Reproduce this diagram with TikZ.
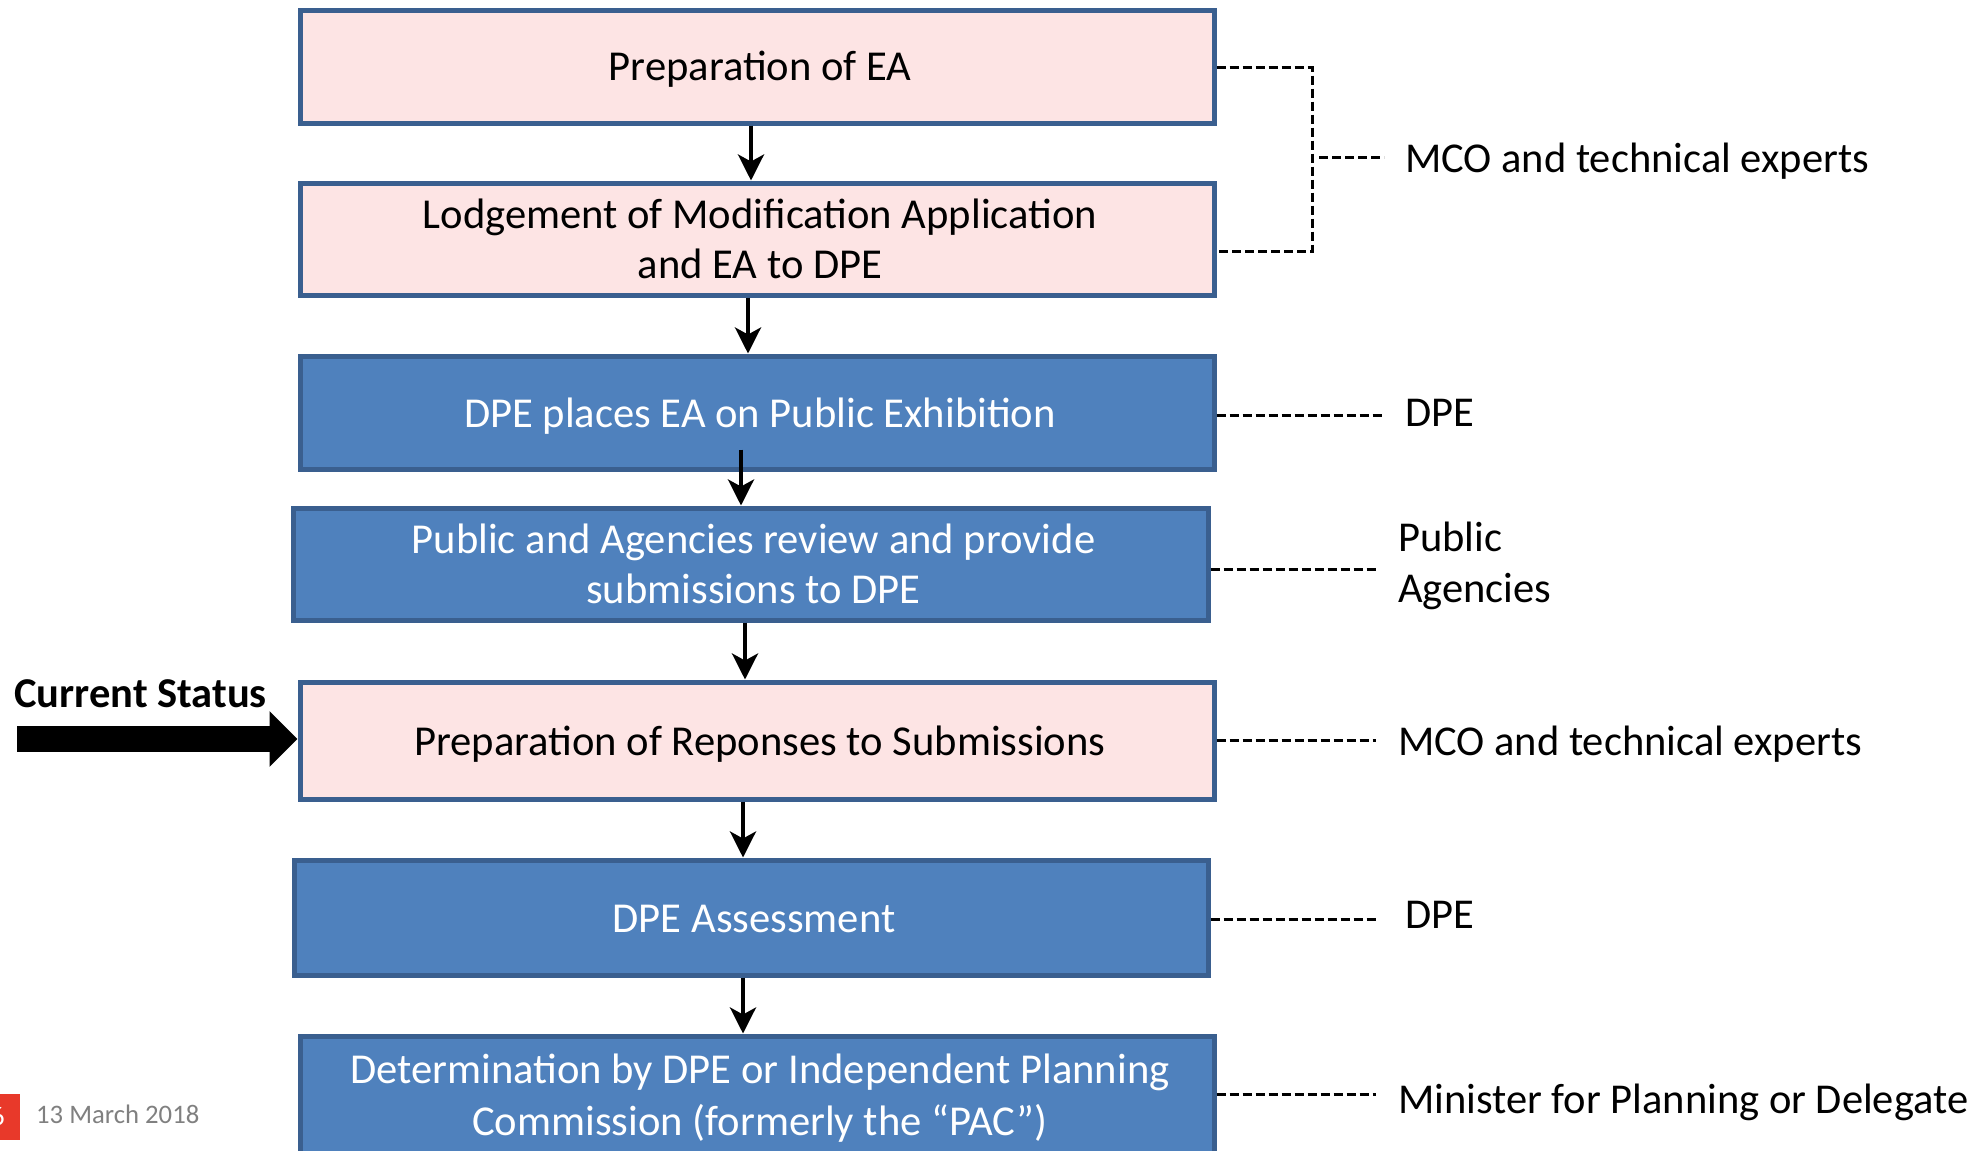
\documentclass[tikz,border=0pt]{standalone}
\usepackage{fontspec}
\setmainfont{Carlito}
\usetikzlibrary{arrows.meta,calc}
\definecolor{pinkfill}{RGB}{253,228,228}
\definecolor{bluefill}{RGB}{79,129,189}
\definecolor{boxborder}{RGB}{58,95,143}
\definecolor{footgrey}{RGB}{128,128,128}
\definecolor{footred}{RGB}{232,57,42}
\tikzset{
  box/.style={draw=boxborder, line width=5pt, rectangle, inner sep=0pt, minimum width=914pt},
  pinkbox/.style={box, fill=pinkfill},
  bluebox/.style={box, fill=bluefill},
  boxtext/.style={anchor=base, inner sep=0pt, font=\fontsize{42.6}{50}\selectfont},
  darktext/.style={boxtext, text=black},
  lighttext/.style={boxtext, text=white},
  sidelabel/.style={anchor=base west, inner sep=0pt, font=\fontsize{42.5}{51}\selectfont},
  flow/.style={line width=4pt, -{Stealth[length=26pt, width=26pt, inset=7pt]}},
  dashline/.style={line width=3pt, dash pattern=on 9pt off 4pt},
  statusarrow/.style={line width=26pt, -{Triangle[length=28pt, width=54pt]}},
}
\begin{document}
\begin{tikzpicture}[x=1pt,y=-1pt]
\useasboundingbox (0,0) rectangle (1979,1151);
\begin{scope}
\clip (0,0) rectangle (1979,1151);
% boxes
\node[pinkbox, minimum height=113pt] (b1) at (757,66.5) {};
\node[darktext] (t1) at (760,80) {Preparation of EA};
\node[pinkbox, minimum height=112pt] (b2) at (757,239) {};
\node[darktext] (t2a) at (760,228) {Lodgement of Modification Application};
\node[darktext] (t2b) at (760,278) {and EA to DPE};
\node[bluebox, minimum height=113pt] (b3) at (757,412.5) {};
\node[lighttext] (t3) at (760,427) {DPE places EA on Public Exhibition};
\node[bluebox, minimum height=112pt, minimum width=915pt] (b4) at (750.5,564) {};
\node[lighttext] (t4a) at (753.5,553) {Public and Agencies review and provide};
\node[lighttext] (t4b) at (753.5,603) {submissions to DPE};
\node[pinkbox, minimum height=117pt] (b5) at (757,740.5) {};
\node[darktext] (t5) at (760,755) {Preparation of Reponses to Submissions};
\node[bluebox, minimum height=115pt] (b6) at (751,917.5) {};
\node[lighttext] (t6) at (754,932) {DPE Assessment};
\node[bluebox, minimum height=124pt] (b7) at (757,1098) {};
\node[lighttext] (t7a) at (760,1083) {Determination by DPE or Independent Planning};
\node[lighttext] (t7b) at (760,1135) {Commission (formerly the “PAC”)};
% flow arrows
\draw[flow] ($(b1.south)+(-6,0)$) -- ($(b2.north)+(-6,0)$);
\draw[flow] ($(b2.south)+(-9,0)$) -- ($(b3.north)+(-9,0)$);
\draw[flow] ($(b3.south)+(-16,-22)$) -- ($(b4.north)+(-9.5,0)$);
\draw[flow] ($(b4.south)+(-5.5,0)$) -- ($(b5.north)+(-12,0)$);
\draw[flow] ($(b5.south)+(-14,0)$) -- ($(b6.north)+(-8,0)$);
\draw[flow] ($(b6.south)+(-8,0)$) -- ($(b7.north)+(-14,0)$);
% side labels
\node[sidelabel] (l1) at (1405,172) {MCO and technical experts};
\node[sidelabel] (l3) at (1405,426) {DPE};
\node[sidelabel] (l4a) at (1398,551) {Public};
\node[sidelabel] (l4b) at (1398,602) {Agencies};
\node[sidelabel] (l5) at (1398,755) {MCO and technical experts};
\node[sidelabel] (l6) at (1405,928) {DPE};
\node[sidelabel] (l7) at (1398,1113) {Minister for Planning or Delegate};
% dashed connectors
\coordinate (k1) at (1312,67);
\coordinate (k2) at (1312,251);
\coordinate (m0) at (1319,157);
\coordinate (m1) at (1384,157);
\draw[dashline] (b1.east |- k1) -- (k1) -- (k2) -- (b2.east |- k2);
\draw[dashline] (m0) -- (m1);
\coordinate (e3) at (1383,415);
\coordinate (e4) at (1376,569);
\coordinate (e5) at (1376,740);
\coordinate (e6) at (1376,919);
\coordinate (e7) at (1376,1094);
\draw[dashline] (b3.east |- e3) -- (e3);
\draw[dashline] (b4.east |- e4) -- (e4);
\draw[dashline] (b5.east |- e5) -- (e5);
\draw[dashline] (b6.east |- e6) -- (e6);
\draw[dashline] (b7.east |- e7) -- (e7);
% current status
\node[anchor=base west, inner sep=0pt, font=\bfseries\fontsize{42.5}{48}\selectfont] (cs) at (14,707) {Current Status};
\coordinate (csstart) at (17,739);
\draw[statusarrow] (csstart) -- (csstart -| b5.west);
% footer
\node[fill=footred, minimum width=44pt, minimum height=46pt, inner sep=0pt, text=white, font=\fontsize{26.7}{30}\selectfont] (pg) at (-2,1117) {6};
\node[anchor=base west, inner sep=0pt, text=footgrey, font=\fontsize{26.7}{30}\selectfont] (date) at (36,1123) {13 March 2018};
\end{scope}
\end{tikzpicture}
\end{document}
